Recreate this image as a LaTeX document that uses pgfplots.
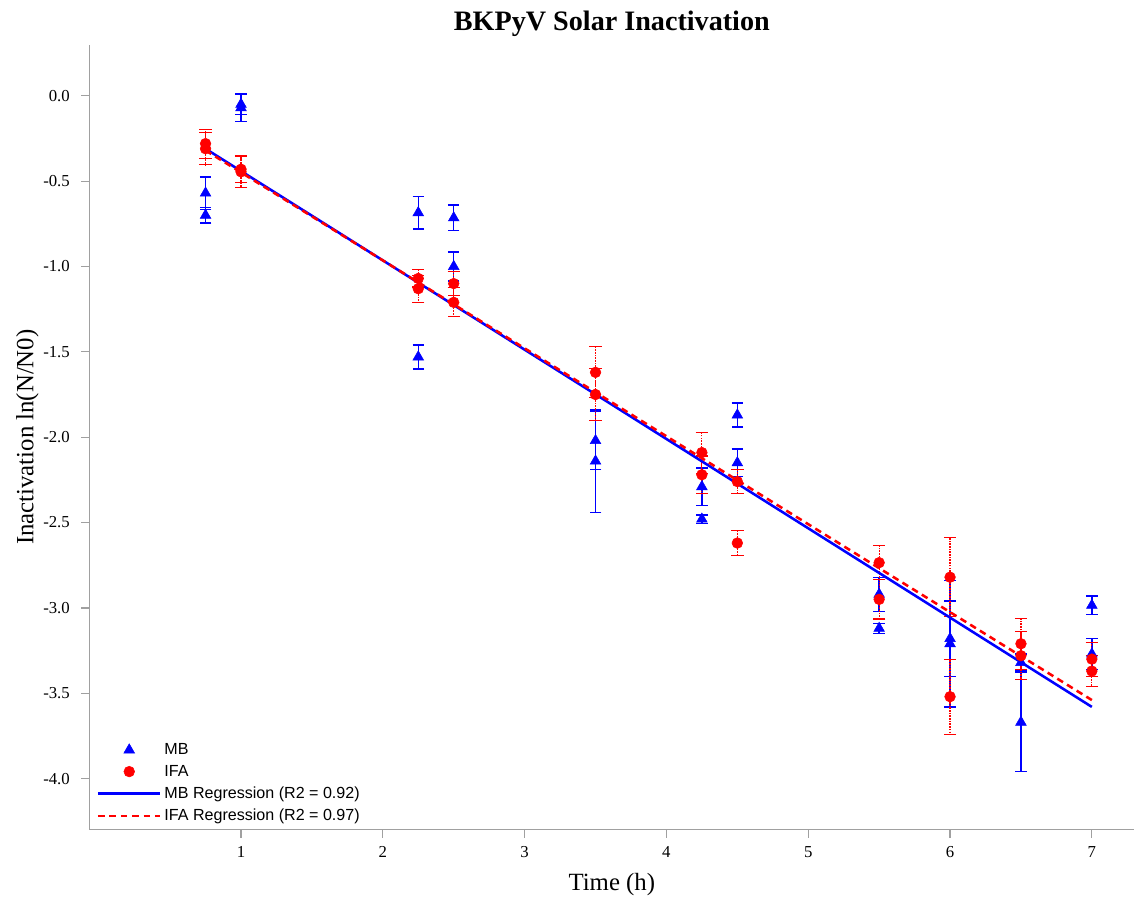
\documentclass[border=0pt]{standalone}
\usepackage{pgfplots}
\pgfplotsset{compat=1.18}
\usepackage{pgfplotstable}
\usepackage{fontspec}
\setmainfont{Liberation Serif}
\newfontfamily\legfont{Liberation Sans}
\definecolor{mbblue}{RGB}{0,0,255}
\definecolor{ifared}{RGB}{255,0,0}
\definecolor{axgray}{RGB}{160,160,160}

\pgfplotsset{
  marklegend/.style={legend image code/.code={\draw[mark repeat=2,mark phase=2,##1] plot coordinates {(0cm,0cm) (0.82cm,0cm) (1.64cm,0cm)};}},
  linelegend/.style={legend image code/.code={\draw[##1] (0cm,0cm) -- (1.64cm,0cm);}},
}

\pgfplotstableread{
x y e
0.75 -0.57 0.095
0.75 -0.70 0.045
1 -0.05 0.06
1 -0.07 0.08
2.25 -0.685 0.095
2.25 -1.53 0.07
2.5 -0.715 0.075
2.5 -1.00 0.085
3.5 -2.02 0.17
3.5 -2.14 0.30
4.25 -2.29 0.11
4.25 -2.48 0.025
4.5 -1.87 0.07
4.5 -2.15 0.08
5.5 -2.92 0.10
5.5 -3.12 0.03
6 -3.18 0.22
6 -3.21 0.37
6.5 -3.32 0.05
6.5 -3.67 0.29
7 -2.985 0.055
7 -3.27 0.09
}\mbdata

\pgfplotstableread{
x y e
0.75 -0.28 0.085
0.75 -0.31 0.095
1 -0.43 0.08
1 -0.445 0.09
2.25 -1.07 0.05
2.25 -1.13 0.08
2.5 -1.10 0.07
2.5 -1.21 0.085
3.5 -1.62 0.15
3.5 -1.75 0.15
4.25 -2.09 0.12
4.25 -2.22 0.11
4.5 -2.26 0.07
4.5 -2.62 0.075
5.5 -2.735 0.10
5.5 -2.95 0.115
6 -2.82 0.23
6 -3.52 0.22
6.5 -3.21 0.15
6.5 -3.28 0.14
7 -3.30 0.10
7 -3.37 0.09
}\ifadata

\begin{document}
\begin{tikzpicture}
\begin{axis}[
  scale only axis,
  width=780pt, height=586pt,
  xmin=-0.07, xmax=7.3,
  ymin=-4.3, ymax=0.3,
  axis x line*=bottom, axis y line*=left,
  axis line style={axgray, line width=0.9pt},
  xtick={1,2,3,4,5,6,7},
  ytick={-4,-3.5,-3,-2.5,-2,-1.5,-1,-0.5,0},
  tick align=outside,
  major tick length=6pt,
  tick style={axgray, line width=0.9pt},
  /pgf/number format/assume math mode=true,
  yticklabel style={/pgf/number format/fixed, /pgf/number format/precision=1, /pgf/number format/fixed zerofill, font=\fontsize{12.5}{15}\selectfont, xshift=-5pt},
  xticklabel style={font=\fontsize{12.5}{15}\selectfont, yshift=-3pt},
  xlabel={Time (h)},
  ylabel={Inactivation ln(N/N0)},
  xlabel style={font=\fontsize{18.5}{22}\selectfont, yshift=-5pt},
  ylabel style={font=\fontsize{18.5}{22}\selectfont, inner ysep=12pt, yshift=-12pt},
  title={BKPyV Solar Inactivation},
  title style={font=\fontsize{21}{25}\selectfont\bfseries, inner ysep=8pt, yshift=-8pt},
  legend style={at={(0.003,0.002)}, anchor=south west, draw=none, fill=none,
    font=\legfont\fontsize{12}{14}\selectfont, row sep=2.4pt,
    legend cell align=left},
  clip=false,
]
\addplot[only marks, mark=triangle*, mark size=4.6pt, color=mbblue, marklegend,
  error bars/.cd, y dir=both, y explicit,
  error bar style={color=mbblue, draw=mbblue, line width=1pt},
  error mark options={rotate=90, mark size=4.3pt, color=mbblue, draw=mbblue, line width=1pt}]
  table[x=x, y=y, y error=e]{\mbdata};
\addlegendentry{MB}
\addplot[only marks, mark=*, mark size=4pt, color=ifared, marklegend,
  error bars/.cd, y dir=both, y explicit,
  error bar style={color=ifared, draw=ifared, line width=0.9pt, dash pattern=on 1.2pt off 0.8pt},
  error mark options={rotate=90, mark size=4.6pt, color=ifared, draw=ifared, line width=0.8pt, solid}]
  table[x=x, y=y, y error=e]{\ifadata};
\addlegendentry{IFA}
\addplot[mbblue, line width=1.9pt, no marks, linelegend] coordinates {(0.75,-0.31) (7,-3.58)};
\addlegendentry{MB Regression (R2 = 0.92)}
\addplot[ifared, line width=1.9pt, dash pattern=on 5pt off 3.5pt, no marks, linelegend] coordinates {(0.75,-0.32) (7,-3.54)};
\addlegendentry{IFA Regression (R2 = 0.97)}
\end{axis}
\end{tikzpicture}
\end{document}
